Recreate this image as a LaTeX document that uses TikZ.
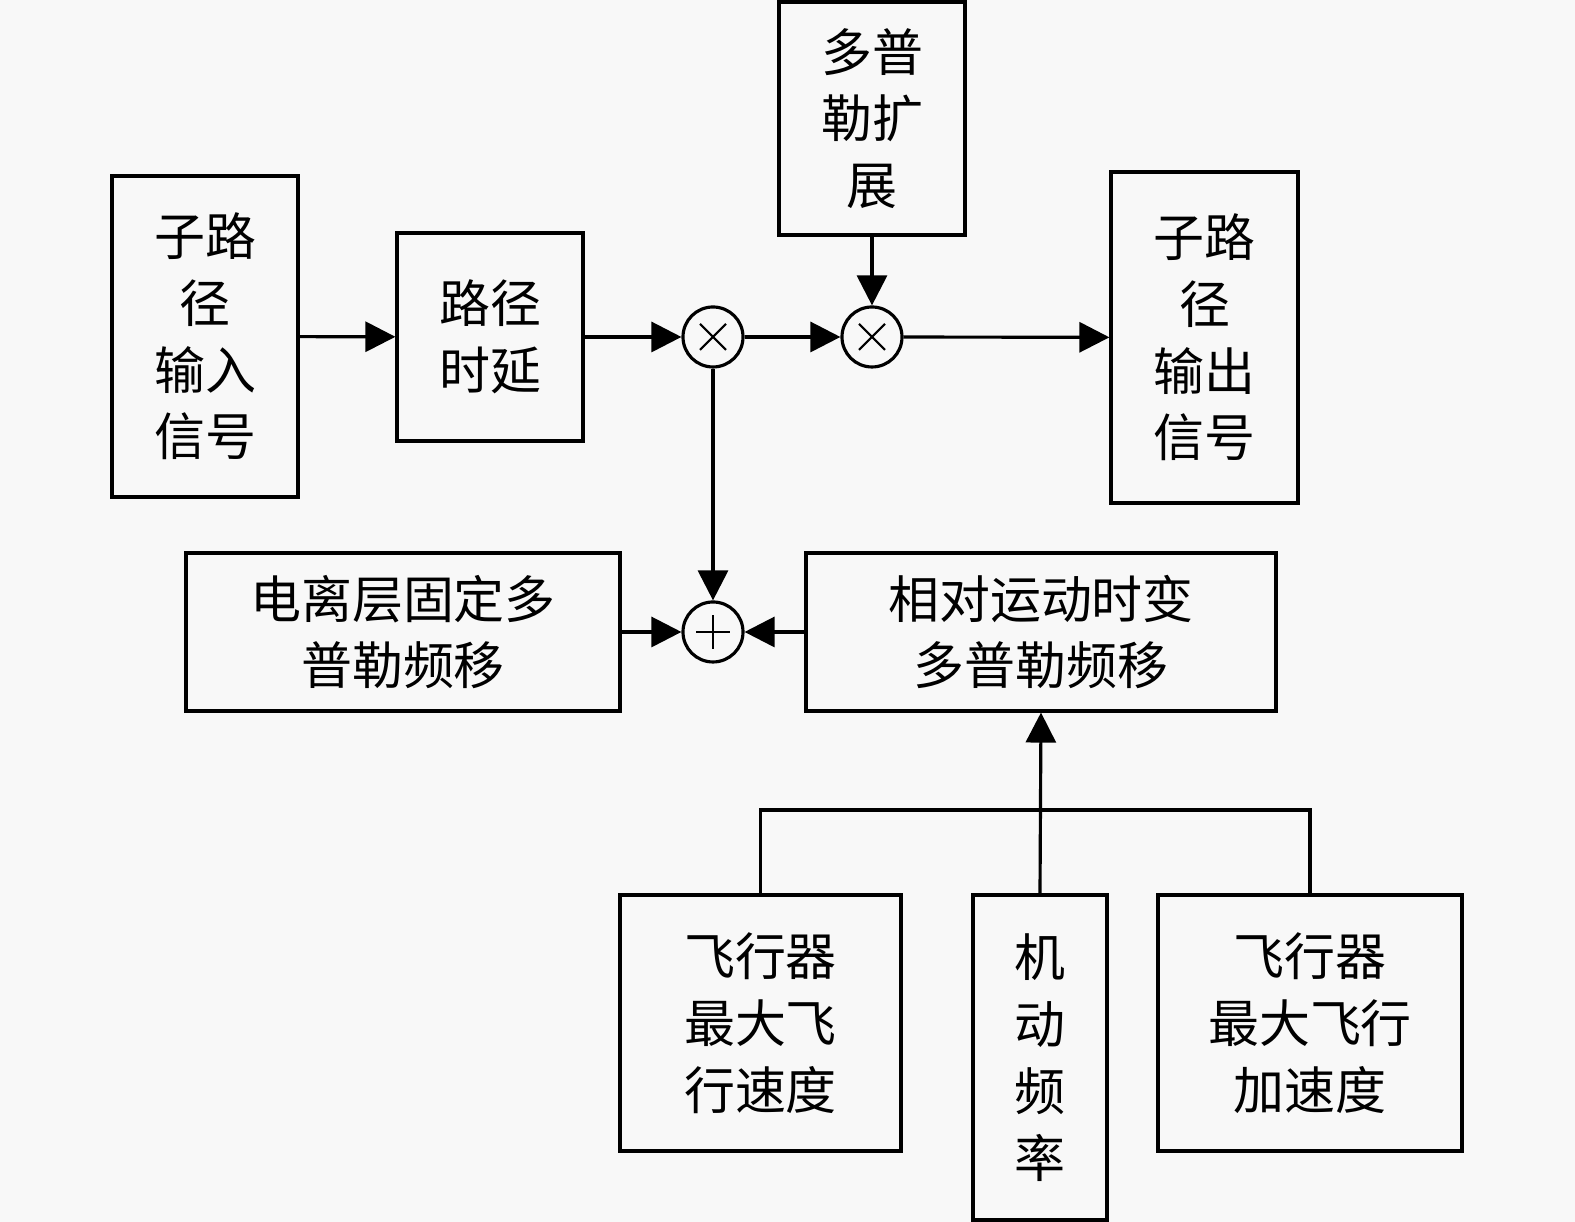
\documentclass[tikz,border=0pt]{standalone}
\usepackage{fontspec}
\usepackage{tikz}
\usepackage{xcolor}
\usetikzlibrary{arrows.meta}
\newfontfamily\cjk{Noto Sans CJK SC}
\definecolor{paper}{RGB}{248,248,248}
\tikzset{
  blk/.style={draw,line width=0.9pt,align=center,inner sep=0pt,
    font=\cjk\fontsize{14.5}{19}\selectfont},
  mix/.style={draw,circle,line width=0.9pt,minimum size=0.6cm,inner sep=0pt},
  flow/.style={line width=0.9pt,-{Triangle[length=0.3cm,width=0.3cm]}},
  wire/.style={line width=0.9pt},
  sign/.style={line width=0.6pt}
}

\begin{document}
\begin{tikzpicture}
      \fill[paper] (0,0) rectangle (15.75,12.22);
      \useasboundingbox (0,0) rectangle (15.75,12.22);
      % upper path
      \node[blk,minimum width=1.86cm,minimum height=3.21cm] (in) at (2.05,8.855) {子路\\径\\输入\\信号};
      \node[blk,minimum width=1.86cm,minimum height=2.08cm] (delay) at (4.90,8.85) {路径\\时延};
      \node[mix] (m1) at (7.13,8.85) {};
      \node[mix] (m2) at (8.72,8.85) {};
      \node[blk,minimum width=1.86cm,minimum height=2.33cm] (spread) at (8.72,11.035) {多普\\勒扩\\展};
      \node[blk,minimum width=1.87cm,minimum height=3.31cm] (out) at (12.045,8.845) {子路\\径\\输出\\信号};
      \draw[sign] ([shift={(-0.13,0.13)}]m1.center) -- ([shift={(0.13,-0.13)}]m1.center)
        ([shift={(-0.13,-0.13)}]m1.center) -- ([shift={(0.13,0.13)}]m1.center);
      \draw[sign] ([shift={(-0.13,0.13)}]m2.center) -- ([shift={(0.13,-0.13)}]m2.center)
        ([shift={(-0.13,-0.13)}]m2.center) -- ([shift={(0.13,0.13)}]m2.center);
      % doppler shift
      \node[blk,minimum width=4.34cm,minimum height=1.58cm] (iono) at (4.03,5.90) {电离层固定多\\普勒频移};
      \node[mix] (sum) at (7.13,5.90) {};
      \draw[sign] ([xshift=-0.17cm]sum.center) -- ([xshift=0.17cm]sum.center)
        ([yshift=-0.17cm]sum.center) -- ([yshift=0.17cm]sum.center);
      \node[blk,minimum width=4.70cm,minimum height=1.58cm] (rel) at (10.41,5.90) {相对运动时变\\多普勒频移};
      % parameters
      \node[blk,minimum width=2.81cm,minimum height=2.56cm] (vel) at (7.605,1.99) {飞行器\\最大飞\\行速度};
      \node[blk,minimum width=1.34cm,minimum height=3.25cm] (man) at (10.40,1.645) {机\\动\\频\\率};
      \node[blk,minimum width=3.04cm,minimum height=2.56cm] (acc) at (13.10,1.99) {飞行器\\最大飞行\\加速度};
      \coordinate (jn) at (10.40,4.12);
      % connectors
      \draw[flow] (in) -- (delay);
      \draw[flow] (delay) -- (m1);
      \draw[flow] (m1) -- (m2);
      \draw[flow] (m2) -- (out);
      \draw[flow] (spread) -- (m2);
      \draw[flow] (m1) -- (sum);
      \draw[flow] (iono) -- (sum);
      \draw[flow] (rel) -- (sum);
      \draw[wire] (vel.north) |- (jn);
      \draw[wire] (acc.north) |- (jn);
      \draw[flow] (man.north) -- (rel.south);
    \end{tikzpicture}
\end{document}
